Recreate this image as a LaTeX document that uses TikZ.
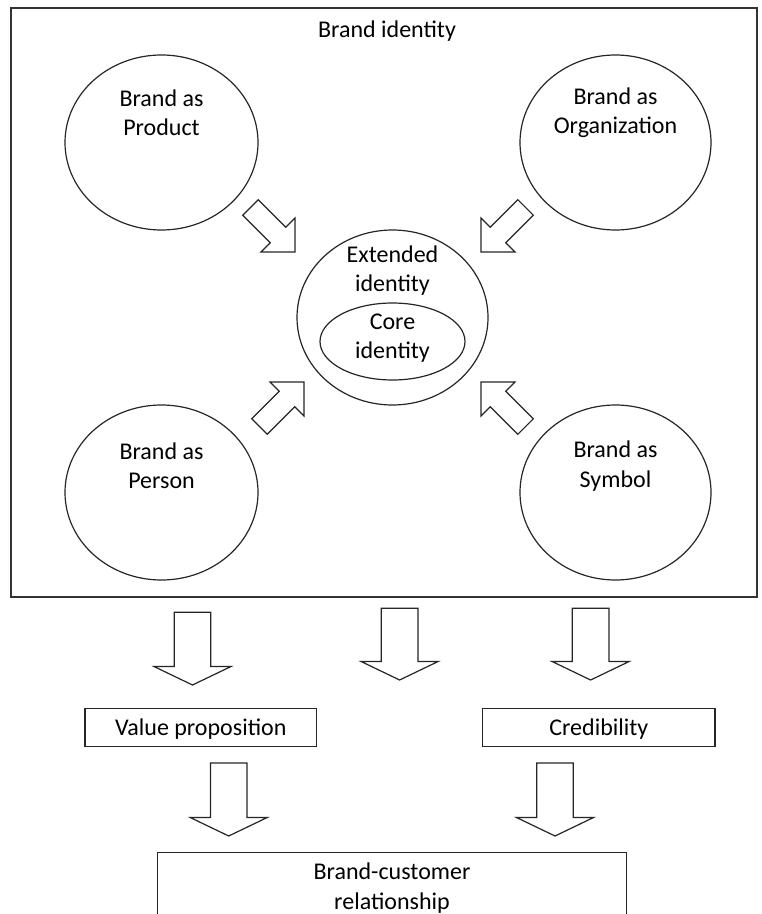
\documentclass[tikz,border=0pt]{standalone}
\usepackage{fontspec}
\setmainfont{Carlito}
\usetikzlibrary{shapes.geometric,calc}
\newcommand{\bkarrow}[5]{%
  \coordinate (bb) at ($(#2)!#5!(#1)$);
  \draw[ln] ($(#1)!#3!90:(#2)$) -- ($(bb)!#3!-90:(#1)$) -- ($(bb)!#4!-90:(#1)$) -- (#2)
    -- ($(bb)!#4!90:(#1)$) -- ($(bb)!#3!90:(#1)$) -- ($(#1)!#3!-90:(#2)$) -- cycle;}
\begin{document}
\begin{tikzpicture}[x=0.5pt,y=-0.5pt,
  ln/.style={draw=black!85,line width=0.6pt},
  bubble/.style={ln,ellipse,inner sep=0pt},
  lbl/.style={align=center,font=\fontsize{12}{14.6}\selectfont,inner sep=0pt},
  frame/.style={draw=black!80,line width=0.9pt,inner sep=0pt},
  boxed/.style={ln,inner sep=0pt,text depth=0pt,font=\fontsize{12}{14.6}\selectfont}]
\useasboundingbox (0,0) rectangle (761,914);
\clip (0,0) rectangle (761,914);
\fill[white] (0,0) rectangle (761,914);

% outer frame
\node[frame,anchor=north west,minimum width=373pt,minimum height=294.5pt] (ident) at (10,7) {};
\node[lbl] (title) at (387,31) {Brand identity};

% circles
\node[bubble,minimum width=96.5pt,minimum height=87.5pt] (prod) at (161.5,142.5) {};
\node[lbl] (prodt) at (161.5,112.5) {Brand as\\Product};
\node[bubble,minimum width=95.5pt,minimum height=87.5pt] (org) at (615.5,142.5) {};
\node[lbl] (orgt) at (615.5,112.5) {Brand as\\Organization};
\node[bubble,minimum width=96.5pt,minimum height=87.5pt] (pers) at (161.5,492.5) {};
\node[lbl] (perst) at (161.5,466) {Brand as\\Person};
\node[bubble,minimum width=95.5pt,minimum height=87.5pt] (symb) at (615.5,492.5) {};
\node[lbl] (symbt) at (615.5,466) {Brand as\\Symbol};

\node[bubble,minimum width=95.5pt,minimum height=87.5pt] (ext) at (392.5,317.5) {};
\node[lbl] (extt) at (392.5,270.5) {Extended\\identity};
\node[bubble,minimum width=72.5pt,minimum height=38.5pt] (core) at (392.5,341.5) {};
\node[lbl] (coret) at (392.5,338.5) {Core\\identity};

% diagonal arrows
\coordinate (d1t) at (250.45,207.45); \coordinate (d1h) at (295,252);
\coordinate (d2t) at (525.55,207.45); \coordinate (d2h) at (481,252);
\coordinate (d3t) at (259.45,426.55); \coordinate (d3h) at (304,382);
\coordinate (d4t) at (525.55,426.55); \coordinate (d4h) at (481,382);
\bkarrow{d1t}{d1h}{5.5pt}{12pt}{12pt}
\bkarrow{d2t}{d2h}{5.5pt}{12pt}{12pt}
\bkarrow{d3t}{d3h}{5.5pt}{12pt}{12pt}
\bkarrow{d4t}{d4h}{5.5pt}{12pt}{12pt}

% vertical arrows
\coordinate (v1t) at (192.5,612.3); \coordinate (v1h) at (192.5,685);
\coordinate (v2t) at (399.6,608.3); \coordinate (v2h) at (399.6,680);
\coordinate (v3t) at (590.6,608.3); \coordinate (v3h) at (590.6,680);
\coordinate (v4t) at (228.7,763); \coordinate (v4h) at (228.7,836);
\coordinate (v5t) at (555,763); \coordinate (v5h) at (555,836);
\bkarrow{v1t}{v1h}{9.15pt}{19.25pt}{9.25pt}
\bkarrow{v2t}{v2h}{9.15pt}{19.25pt}{9.25pt}
\bkarrow{v3t}{v3h}{9.15pt}{19.25pt}{9.25pt}
\bkarrow{v4t}{v4h}{9.15pt}{19.25pt}{9.25pt}
\bkarrow{v5t}{v5h}{9.15pt}{19.25pt}{9.25pt}

% boxes
\node[boxed,minimum width=115.85pt,minimum height=19.2pt] (vp) at (200.8,727.5) {Value proposition};
\node[boxed,minimum width=116.15pt,minimum height=19.2pt] (cred) at (598.85,727.5) {Credibility};
\node[boxed,anchor=north,minimum width=234.7pt,minimum height=60pt] (bcr) at (392,851.7) {};
\node[lbl] (bcrt) at (392,888) {Brand-customer\\relationship};
\end{tikzpicture}
\end{document}
